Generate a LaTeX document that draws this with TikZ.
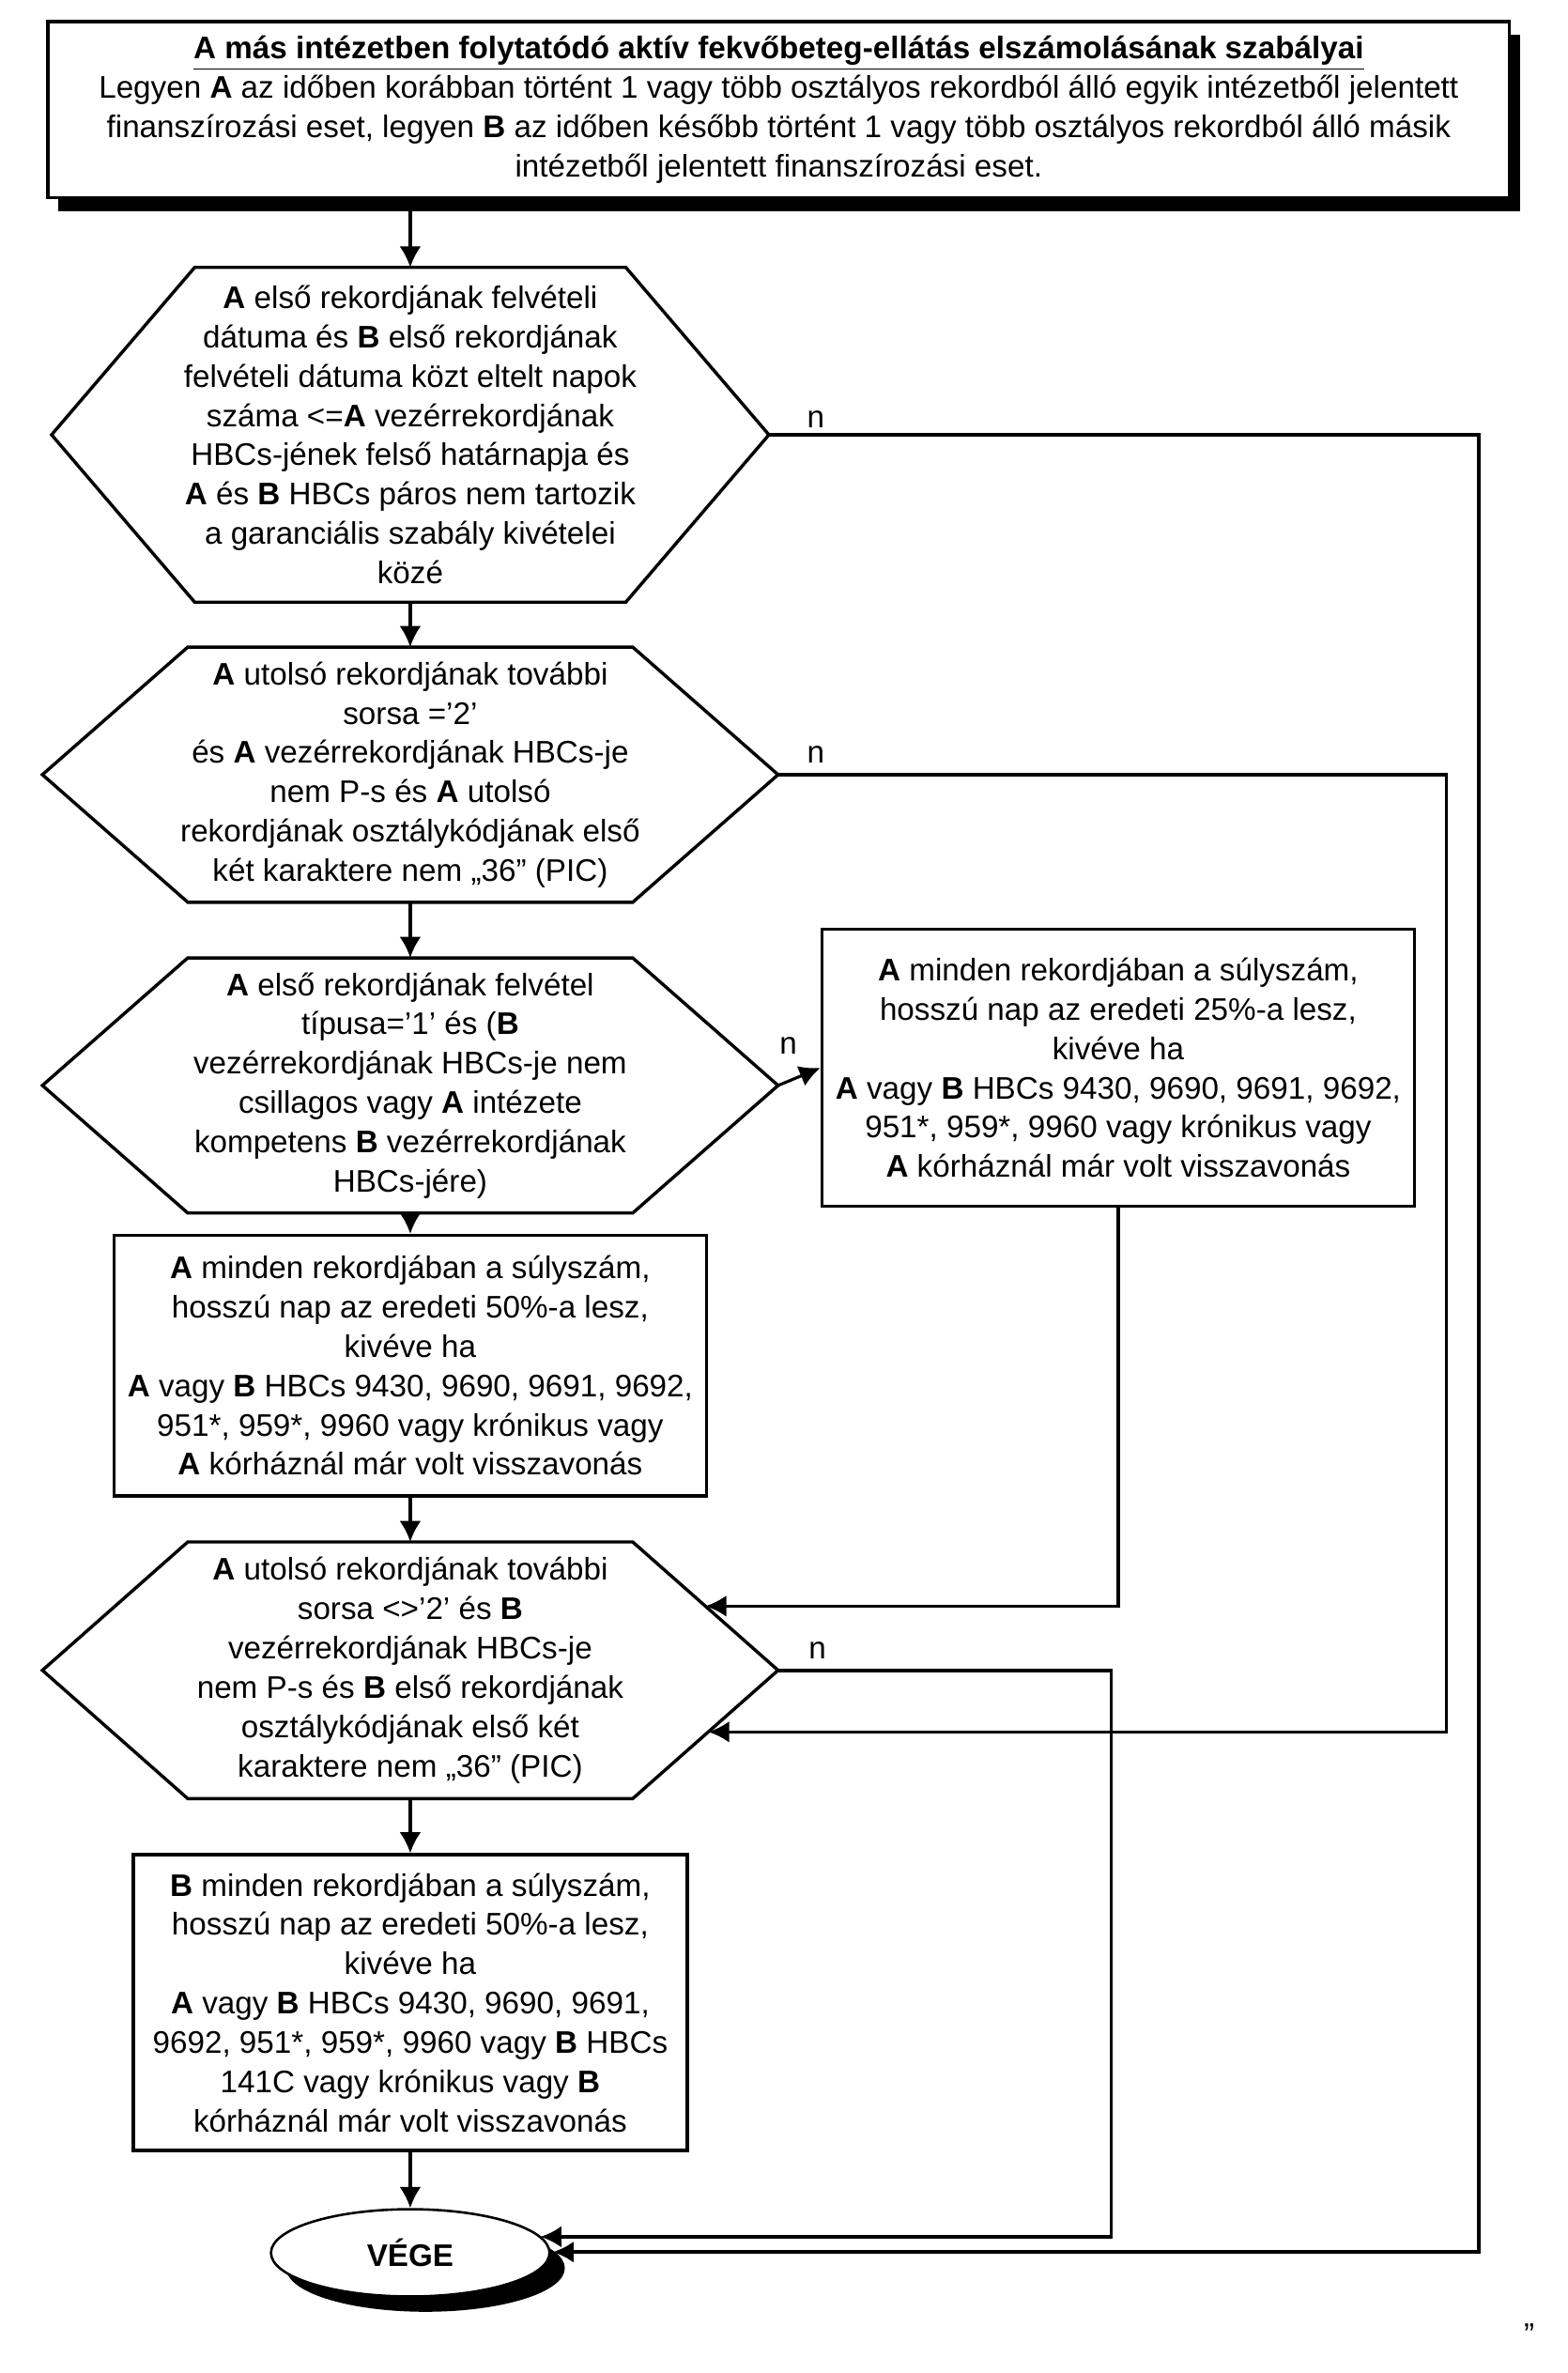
\documentclass[tikz,border=0pt]{standalone}
\usepackage{fontspec}
\setmainfont{Liberation Sans}
\usetikzlibrary{arrows.meta,shapes.geometric,shadows,calc}

\tikzset{
  box/.style={draw, line width=1.2pt, fill=white, align=center, inner sep=2pt},
  hexa/.style={align=center, inner sep=2pt, minimum width=9.6cm, minimum height=3.32cm},
  flow/.style={line width=1.1pt, ->},
  blackshadow/.style={drop shadow={shadow xshift=#1, shadow yshift=-0.18cm, fill=black, opacity=1}},
}

\begin{document}
\begin{tikzpicture}[x=0.02cm, y=-0.02cm, >={Latex[length=7.8pt,width=8pt]},
  font=\fontsize{11.6}{14.6}\selectfont]
\useasboundingbox (0,0) rectangle (1024,1550);

\node[box, blackshadow=0.14cm, minimum width=19.1cm, minimum height=2.3cm] (title) at (508.7,71.5)
  {\underline{\textbf{A más intézetben folytatódó aktív fekvőbeteg-ellátás elszámolásának szabályai}}\\
   Legyen \textbf{A} az időben korábban történt 1 vagy több osztályos rekordból álló egyik intézetből jelentett\\
   finanszírozási eset, legyen \textbf{B} az időben később történt 1 vagy több osztályos rekordból álló másik\\
   intézetből jelentett finanszírozási eset.};

\node[hexa, minimum width=9.36cm, minimum height=4.36cm] (d1) at (268,284)
  {\textbf{A} első rekordjának felvételi\\
   dátuma és \textbf{B} első rekordjának\\
   felvételi dátuma közt eltelt napok\\
   száma <=\textbf{A} vezérrekordjának\\
   HBCs-jének felső határnapja és\\
   \textbf{A} és \textbf{B} HBCs páros nem tartozik\\
   a garanciális szabály kivételei\\
   közé};

\node[hexa] (d2) at (268,506)
  {\textbf{A} utolsó rekordjának további\\
   sorsa ='2'\\
   és \textbf{A} vezérrekordjának HBCs-je\\
   nem P-s és \textbf{A} utolsó\\
   rekordjának osztálykódjának első\\
   két karaktere nem „36” (PIC)};

\node[hexa] (d3) at (268,709)
  {\textbf{A} első rekordjának felvétel\\
   típusa='1' és (\textbf{B}\\
   vezérrekordjának HBCs-je nem\\
   csillagos vagy \textbf{A} intézete\\
   kompetens \textbf{B} vezérrekordjának\\
   HBCs-jére)};

\node[box, minimum width=7.74cm, minimum height=3.62cm] (boxR) at (730.5,697.5)
  {\textbf{A} minden rekordjában a súlyszám,\\
   hosszú nap az eredeti 25\%-a lesz,\\
   kivéve ha\\
   \textbf{A} vagy \textbf{B} HBCs 9430, 9690, 9691, 9692,\\
   951*, 959*, 9960 vagy krónikus vagy\\
   \textbf{A} kórháznál már volt visszavonás};

\node[box, minimum width=7.74cm, minimum height=3.4cm] (boxL) at (268,892)
  {\textbf{A} minden rekordjában a súlyszám,\\
   hosszú nap az eredeti 50\%-a lesz,\\
   kivéve ha\\
   \textbf{A} vagy \textbf{B} HBCs 9430, 9690, 9691, 9692,\\
   951*, 959*, 9960 vagy krónikus vagy\\
   \textbf{A} kórháznál már volt visszavonás};

\node[hexa, minimum height=3.34cm] (d4) at (268,1091)
  {\textbf{A} utolsó rekordjának további\\
   sorsa <>'2' és \textbf{B}\\
   vezérrekordjának HBCs-je\\
   nem P-s és \textbf{B} első rekordjának\\
   osztálykódjának első két\\
   karaktere nem „36” (PIC)};

\node[box, minimum width=7.24cm, minimum height=3.86cm] (boxB) at (268,1308)
  {\textbf{B} minden rekordjában a súlyszám,\\
   hosszú nap az eredeti 50\%-a lesz,\\
   kivéve ha\\
   \textbf{A} vagy \textbf{B} HBCs 9430, 9690, 9691,\\
   9692, 951*, 959*, 9960 vagy \textbf{B} HBCs\\
   141C vagy krónikus vagy \textbf{B}\\
   kórháznál már volt visszavonás};

\node[draw, ellipse, line width=0.9pt, fill=white, minimum width=3.64cm, minimum height=1.14cm,
  drop shadow={shadow xshift=0.2cm, shadow yshift=-0.2cm, fill=black, opacity=1}] (vege) at (268,1471.5)
  {\textbf{VÉGE}};

% hexagon outlines
\foreach \h/\s in {d1/1.87cm, d2/1.9cm, d3/1.9cm, d4/1.9cm}
  \draw[line width=1.2pt] (\h.west) -- ([xshift=\s]\h.north west) -- ([xshift=-\s]\h.north east)
    -- (\h.east) -- ([xshift=-\s]\h.south east) -- ([xshift=\s]\h.south west) -- cycle;

\node (n1) at (533,274) {n};
\node (n2) at (533,493) {n};
\node (n3) at (515,683) {n};
\node (n4) at (534,1078) {n};
\node (mark) at (999,1525) {”};

\coordinate (railA) at (966,0);
\coordinate (railB) at (945,0);
\coordinate (railD) at (726,0);
\coordinate (endA) at (353,1461);
\coordinate (endB) at (361,1471);
\coordinate (inR) at ($(d4.east)!0.5!([xshift=-1.9cm]d4.north east)$);
\coordinate (inQ) at ($(d4.east)!0.48!([xshift=-1.9cm]d4.south east)$);

\draw[flow] (title.south -| d1.north) -- (d1.north);
\foreach \a/\b in {d1/d2, d2/d3, d3/boxL, boxL/d4, d4/boxB, boxB/vege}
  \draw[flow] (\a.south) -- (\b.north);

\draw[flow, line width=1.5pt] (d1.east) -| (railA |- endB) -- (endB);
\draw[flow] (d2.east) -| (railB |- inQ) -- (inQ);
\draw[flow] (d3.east) -- (boxR.west);
\draw[flow] (boxR.south) |- (inR);
\draw[flow, line width=1.3pt] (d4.east) -| (railD |- endA) -- (endA);
\end{tikzpicture}
\end{document}
